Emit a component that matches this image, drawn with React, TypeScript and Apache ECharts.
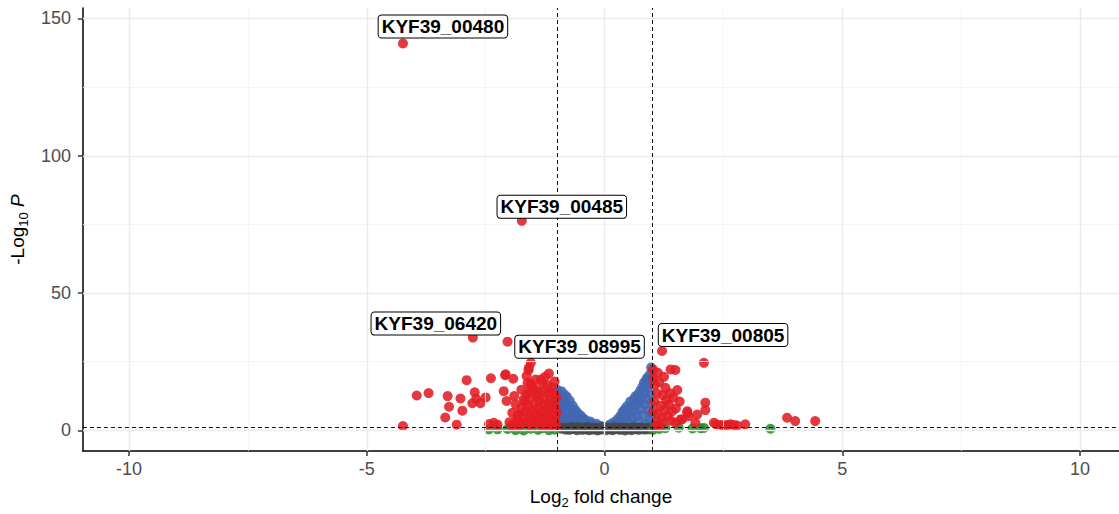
import React, { useEffect, useRef } from 'react';
import * as echarts from 'echarts';

// ---------- axis ticks & cutoffs ----------
const xTicks = [-10, -5, 0, 5, 10];
const yTicks = [0, 50, 100, 150];
const xMinorGrid = [-7.5, -2.5, 2.5, 7.5];
const yMinorGrid = [25, 75, 125];
const fcCutoffs = [-1, 1];
const pCutoff = 1.3;

// ---------- points: [log2FC, -log10 P] ----------
const greyPoints = [
  [-0.92, 0.6], [-0.86, 1.1], [-0.82, 0.3], [-0.78, 0.9], [-0.74, 0.2], [-0.7, 1.2], [-0.66, 0.5],
  [-0.62, 0.9], [-0.58, 0.1], [-0.55, 1.2], [-0.51, 0.6], [-0.47, 0.2], [-0.44, 1.0], [-0.4, 0.4],
  [-0.36, 1.2], [-0.33, 0.1], [-0.29, 0.7], [-0.25, 0.3], [-0.22, 1.1], [-0.18, 0.5], [-0.15, 0.0],
  [-0.11, 0.9], [-0.08, 0.3], [-0.04, 1.2], [-0.01, 0.6], [0.03, 0.1], [0.06, 1.0], [0.1, 0.4],
  [0.13, 0.8], [0.17, 0.1], [0.21, 1.2], [0.24, 0.5], [0.28, 0.9], [0.32, 0.2], [0.35, 1.1],
  [0.39, 0.6], [0.43, 0.0], [0.46, 1.0], [0.5, 0.4], [0.54, 0.8], [0.57, 0.1], [0.61, 1.2],
  [0.65, 0.5], [0.69, 0.9], [0.72, 0.2], [0.76, 1.1], [0.8, 0.6], [0.84, 0.3], [0.88, 1.0],
  [0.92, 0.4], [0.96, 0.8],
];

const bluePoints = [
  [-0.99, 14.8], [-0.97, 11.5], [-0.96, 8.0], [-0.98, 5.0], [-0.99, 2.5], [-0.95, 13.4], [-0.93, 9.8],
  [-0.92, 6.2], [-0.94, 3.6], [-0.9, 14.2], [-0.88, 11.8], [-0.87, 8.5], [-0.89, 4.8], [-0.86, 2.2],
  [-0.84, 13.0], [-0.82, 10.2], [-0.83, 6.9], [-0.81, 3.5], [-0.79, 12.2], [-0.77, 9.0], [-0.78, 5.6],
  [-0.76, 2.6], [-0.73, 10.8], [-0.71, 7.8], [-0.72, 4.4], [-0.7, 1.9], [-0.67, 9.0], [-0.65, 6.3],
  [-0.66, 3.3], [-0.62, 7.6], [-0.6, 5.0], [-0.61, 2.3], [-0.57, 6.5], [-0.55, 4.0], [-0.53, 1.8],
  [-0.5, 5.4], [-0.48, 3.2], [-0.45, 4.4], [-0.43, 2.2], [-0.4, 3.8], [-0.37, 2.8], [-0.34, 1.8],
  [-0.3, 3.2], [-0.26, 2.5], [-0.22, 2.0], [-0.17, 2.4], [-0.12, 1.7], [-0.07, 1.6],
  [0.08, 1.6], [0.12, 2.2], [0.16, 1.8], [0.2, 3.0], [0.24, 2.2], [0.27, 4.0], [0.3, 2.8], [0.33, 5.2],
  [0.36, 3.5], [0.38, 6.8], [0.4, 2.3], [0.42, 7.6], [0.44, 5.0], [0.47, 8.8], [0.49, 3.4], [0.51, 6.5],
  [0.54, 10.5], [0.56, 8.0], [0.58, 4.6], [0.6, 2.0], [0.61, 11.2], [0.63, 7.0], [0.65, 12.4],
  [0.66, 9.4], [0.68, 5.2], [0.7, 13.0], [0.72, 10.6], [0.73, 3.1], [0.75, 14.5], [0.76, 7.9],
  [0.78, 12.0], [0.8, 16.0], [0.81, 5.6], [0.83, 17.4], [0.84, 9.5], [0.85, 13.8], [0.87, 2.5],
  [0.88, 18.5], [0.89, 11.4], [0.9, 19.2], [0.91, 15.4], [0.92, 7.2], [0.94, 16.8], [0.95, 4.0],
  [0.96, 20.5], [0.97, 13.0], [0.98, 22.9], [0.98, 9.8], [0.99, 18.0], [0.99, 6.0],
];

const greenPoints = [
  [-2.43, 0.4], [-2.25, 0.4], [-2.04, 0.5], [-1.87, 0.1], [-1.7, 0.0], [-1.55, 0.6], [-1.4, 0.2],
  [-1.3, 0.8], [-1.17, 0.1], [-1.05, 0.3],
  [1.02, 0.2], [1.15, 0.5], [1.28, 0.8], [1.56, 1.0], [1.85, 0.7], [2.02, 0.8], [2.09, 0.9], [3.49, 0.6],
];

const redPoints = [
  // left outliers
  [-4.24, 1.6], [-3.95, 12.7], [-3.7, 13.6], [-3.3, 12.5], [-3.27, 8.6], [-3.35, 4.7], [-3.11, 2.1],
  [-3.03, 11.6], [-2.99, 7.2], [-2.9, 18.3], [-2.73, 13.9], [-2.78, 9.9], [-2.61, 9.9], [-2.7, 11.5],
  [-2.5, 12.0], [-2.39, 19.0], [-2.43, 2.3], [-2.25, 2.1], [-2.33, 2.8], [-2.09, 20.1],
  // left dense cluster
  [-2.08, 20.4], [-1.92, 18.8], [-2.12, 14.3], [-2.06, 10.7], [-1.87, 9.5], [-1.94, 6.4], [-1.83, 5.2],
  [-2.0, 3.0], [-1.95, 1.8], [-1.9, 12.5], [-1.88, 2.4], [-1.75, 14.8],
  [-1.85, 3.5], [-1.8, 6.0], [-1.78, 1.8], [-1.75, 8.2], [-1.72, 4.4], [-1.7, 2.6], [-1.68, 10.5],
  [-1.66, 6.9], [-1.64, 13.0], [-1.62, 3.2], [-1.6, 8.8], [-1.58, 5.5], [-1.56, 11.8], [-1.55, 1.9],
  [-1.53, 7.4], [-1.51, 4.1], [-1.5, 15.8], [-1.48, 9.6], [-1.46, 2.7], [-1.45, 6.2], [-1.43, 12.6],
  [-1.42, 3.9], [-1.4, 8.1], [-1.38, 5.0], [-1.37, 10.9], [-1.35, 2.2], [-1.34, 14.2], [-1.32, 6.8],
  [-1.31, 4.5], [-1.29, 9.3], [-1.28, 1.6], [-1.27, 11.4], [-1.25, 3.4], [-1.24, 7.6], [-1.22, 5.8],
  [-1.21, 13.5], [-1.2, 2.4], [-1.18, 9.9], [-1.17, 4.8], [-1.15, 7.1], [-1.14, 1.7], [-1.13, 11.1],
  [-1.12, 3.0], [-1.1, 6.3], [-1.09, 8.7], [-1.08, 4.2], [-1.07, 2.0], [-1.06, 10.2], [-1.05, 5.3],
  [-1.04, 7.9], [-1.03, 3.6], [-1.02, 12.0], [-1.02, 1.5], [-1.01, 6.6],
  [-1.55, 17.0], [-1.45, 18.5], [-1.3, 16.8], [-1.25, 19.5], [-1.6, 21.9], [-1.59, 22.8], [-1.55, 24.6],
  [-1.64, 19.8], [-1.34, 18.5], [-1.17, 20.7], [-1.62, 17.3], [-1.1, 15.5], [-1.03, 12.5],
  [-1.52, 15.5], [-1.59, 14.3], [-1.7, 11.3], [-1.4, 13.8], [-1.15, 14.0], [-1.2, 16.5], [-1.05, 17.8],
  // right cluster
  [2.09, 24.6], [1.02, 22.2], [1.39, 22.2], [1.49, 22.0], [1.53, 14.7], [2.12, 10.1], [2.12, 7.4],
  [1.74, 7.0], [1.77, 5.2], [1.95, 5.8], [1.63, 4.0], [1.91, 2.8], [1.49, 2.8], [1.42, 7.0],
  [1.35, 9.5], [1.74, 6.4], [1.6, 4.0], [1.28, 15.5], [1.22, 12.8], [1.3, 11.0], [1.18, 9.0],
  [1.26, 7.5], [1.12, 6.0], [1.2, 4.5], [1.08, 3.2], [1.15, 2.0], [1.33, 5.2], [1.4, 3.5],
  [1.05, 10.5], [1.1, 13.5], [1.06, 16.5], [1.15, 17.5], [1.03, 19.0], [1.25, 19.5], [1.12, 21.0],
  [1.45, 12.0], [1.5, 8.0], [1.38, 13.5], [1.58, 10.5], [1.03, 7.0], [1.07, 1.8], [1.22, 2.6],
  // right tail
  [2.3, 2.8], [2.35, 2.2], [2.45, 2.0], [2.51, 1.8], [2.58, 2.0], [2.65, 2.2], [2.72, 2.0],
  [2.79, 1.8], [2.96, 2.2], [3.84, 4.6], [4.01, 3.4], [4.43, 3.4],
];

const labelledGenes = [
  { name: 'KYF39_00480', x: -4.24, y: 140.9 },
  { name: 'KYF39_00485', x: -1.74, y: 76.3 },
  { name: 'KYF39_06420', x: -2.77, y: 33.8 },
  { name: 'KYF39_08995', x: -2.04, y: 32.3 },
  { name: 'KYF39_00805', x: 1.21, y: 28.9 },
];

// label placement (pixel offsets of each label box from its point)
const labelOffsets: Record<string, [number, number]> = {
  KYF39_00480: [40, -17],
  KYF39_00485: [40, -14],
  KYF39_06420: [-37, -14],
  KYF39_08995: [72, 5],
  KYF39_00805: [61, -16],
};

const FONT = "'Liberation Sans', Arial, Helvetica, sans-serif";
const RED = '#E31E24';
const BLUE = '#4268B4';
const GREEN = '#2A8B2E';
const GREY = '#474747';

export default function App() {
  const ref = useRef<HTMLDivElement>(null);

  useEffect(() => {
    if (!ref.current) return;
    const chart = echarts.init(ref.current, null, { renderer: 'svg' });

    const pointSeries = (name: string, data: number[][], color: string, z: number) => ({
      type: 'scatter',
      name,
      data,
      symbolSize: 10,
      silent: true,
      z,
      itemStyle: { color, opacity: 0.88 },
    });

    const majorLine = { color: '#EBEBEB', width: 1.4, type: 'solid' };
    const minorLine = { color: '#F2F2F2', width: 0.8, type: 'solid' };

    const titleRich = {
      a: { fontSize: 19, color: '#000', fontFamily: FONT, lineHeight: 22 },
      s: { fontSize: 13, color: '#000', fontFamily: FONT, verticalAlign: 'bottom', lineHeight: 25 },
      p: { fontSize: 19, color: '#000', fontFamily: FONT, fontStyle: 'italic', lineHeight: 22 },
    };

    chart.setOption({
      animation: false,
      textStyle: { fontFamily: FONT },
      grid: { left: 82, right: 0, top: 8, bottom: 62, containLabel: false },
      xAxis: {
        type: 'value',
        min: -10.97,
        max: 10.82,
        name: '{a|Log}{s|2}{a| fold change}',
        nameLocation: 'middle',
        nameGap: 33,
        nameTextStyle: { rich: titleRich },
        axisLine: { show: true, onZero: false, lineStyle: { color: '#000', width: 1.5 } },
        axisTick: { show: true, length: 5, customValues: xTicks, lineStyle: { color: '#333', width: 1.5 } },
        axisLabel: { customValues: xTicks, fontSize: 18, color: '#4D4D4D', margin: 9, fontFamily: FONT },
        splitLine: { show: false },
      },
      yAxis: {
        type: 'value',
        min: -7.5,
        max: 153.8,
        name: '{a|-Log}{s|10}{a| }{p|P}',
        nameLocation: 'middle',
        nameRotate: 90,
        nameGap: 48,
        nameTextStyle: { rich: titleRich },
        axisLine: { show: true, onZero: false, lineStyle: { color: '#000', width: 1.5 } },
        axisTick: { show: true, length: 5, customValues: yTicks, lineStyle: { color: '#333', width: 1.5 } },
        axisLabel: { customValues: yTicks, fontSize: 18, color: '#4D4D4D', margin: 12, fontFamily: FONT },
        splitLine: { show: false },
      },
      series: [
        {
          type: 'scatter',
          name: 'grid',
          data: [],
          z: 1,
          silent: true,
          markLine: {
            silent: true,
            symbol: 'none',
            label: { show: false },
            lineStyle: majorLine,
            data: [
              ...xMinorGrid.map((v) => ({ xAxis: v, lineStyle: minorLine })),
              ...yMinorGrid.map((v) => ({ yAxis: v, lineStyle: minorLine })),
              ...xTicks.map((v) => ({ xAxis: v, lineStyle: majorLine })),
              ...yTicks.map((v) => ({ yAxis: v, lineStyle: majorLine })),
            ],
          },
        },
        pointSeries('P', bluePoints, BLUE, 2),
        pointSeries('NS', greyPoints, GREY, 3),
        pointSeries('Log2FC', greenPoints, GREEN, 3),
        pointSeries('P & Log2FC', redPoints, RED, 3),
        {
          type: 'scatter',
          name: 'cutoffs',
          data: [],
          z: 5,
          silent: true,
          markLine: {
            silent: true,
            symbol: 'none',
            label: { show: false },
            lineStyle: { color: '#111', width: 1, type: [4, 3] },
            data: [
              ...fcCutoffs.map((v) => ({ xAxis: v })),
              { yAxis: pCutoff },
            ],
          },
        },
        {
          type: 'scatter',
          name: 'labelled',
          z: 6,
          silent: true,
          symbolSize: 10,
          itemStyle: { color: RED, opacity: 0.88 },
          data: labelledGenes.map((g) => ({
            name: g.name,
            value: [g.x, g.y],
            label: {
              show: true,
              formatter: '{b}',
              position: 'inside',
              offset: labelOffsets[g.name],
              fontSize: 19,
              fontWeight: 'bold',
              fontFamily: FONT,
              color: '#000',
              backgroundColor: '#fff',
              borderColor: '#000',
              borderWidth: 1,
              borderRadius: 3,
              padding: [2, 3, 1, 3],
              opacity: 1,
            },
          })),
        },
      ],
    });

    return () => chart.dispose();
  }, []);

  return (
    <div
      ref={ref}
      style={{ position: 'fixed', left: 0, top: 0, width: 1119, height: 514, background: '#fff' }}
    />
  );
}
